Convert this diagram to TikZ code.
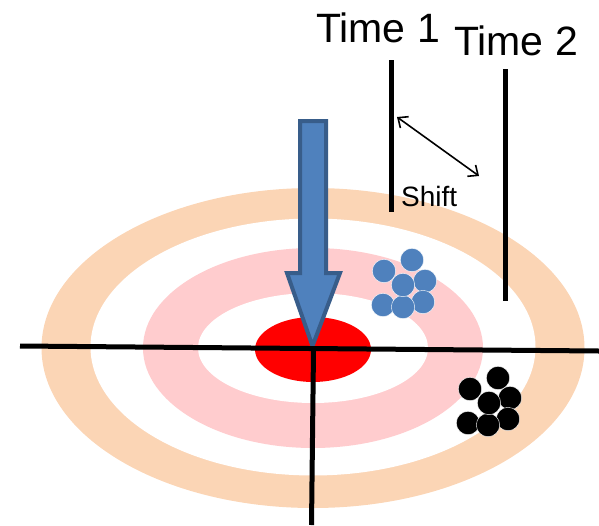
\documentclass[tikz,border=0pt]{standalone}
\usepackage{fontspec}
\setmainfont{Liberation Sans}
\usetikzlibrary{arrows.meta}
\definecolor{ringorange}{RGB}{251,213,181}
\definecolor{ringpink}{RGB}{255,204,206}
\definecolor{arrowfill}{RGB}{79,129,189}
\definecolor{arrowline}{RGB}{56,93,138}
\definecolor{dotblue}{RGB}{79,129,189}
\begin{document}
\begin{tikzpicture}[x=1pt,y=-1pt,
  bluedot/.style={fill=dotblue,draw=white,line width=0.4pt},
  blackdot/.style={fill=black,draw=white,line width=0.4pt},
  axisline/.style={line width=5pt,black},
  timeline/.style={line width=5pt,black},
  timelabel/.style={font=\fontsize{41}{41}\selectfont,inner sep=0pt,anchor=base west},
  shiftlabel/.style={font=\fontsize{28}{28}\selectfont,inner sep=0pt,anchor=base west}]
\useasboundingbox (0,0) rectangle (599,525);
% target rings
\fill[ringorange] (313,348) ellipse [x radius=271.5, y radius=160];
\fill[white] (313,347) ellipse [x radius=222.5, y radius=128.5];
\fill[ringpink] (313,348) ellipse [x radius=170, y radius=100];
\fill[white] (313,348) ellipse [x radius=115, y radius=55];
\fill[red] (313,349.5) ellipse [x radius=58, y radius=32.5];
% big arrow
\draw[fill=arrowfill,draw=arrowline,line width=4pt,line join=miter]
  (300,121) -- (326,121) -- (326,273) -- (340,273) -- (312.5,346)
  -- (287,273) -- (300,273) -- cycle;
% axes
\coordinate (hl) at (20,346);
\coordinate (hr) at (599,351);
\coordinate (vt) at (313.5,350);
\coordinate (vb) at (311.5,525);
\draw[axisline] (hl) -- (hr);
\draw[axisline] (vt) -- (vb);
% time lines
\coordinate (t1top) at (391,60);
\coordinate (t1bot) at (391,212);
\coordinate (t2top) at (505,69);
\coordinate (t2bot) at (505,301);
\draw[timeline] (t1top) -- (t1bot);
\draw[timeline] (t2top) -- (t2bot);
\node[timelabel] (time1) at (316,42) {Time 1};
\node[timelabel] (time2) at (454,55) {Time 2};
% shift arrow
\coordinate (sa) at (397,117);
\coordinate (sb) at (479,176);
\draw[line width=1.6pt,{Straight Barb[length=8pt,width=14pt]}-{Straight Barb[length=8pt,width=14pt]}] (sa) -- (sb);
\node[shiftlabel] (shift) at (401,206) {Shift};
% blue dots
\foreach \p in {(412,260),(384,271),(425,281),(383,305),(423,302),(403,307),(403,285)}
  \draw[bluedot] \p circle [radius=11.7];
% black dots
\foreach \p in {(498,378),(470,389),(510,398),(468,423),(508,419),(488,425),(489,403)}
  \draw[blackdot] \p circle [radius=11.7];
\end{tikzpicture}
\end{document}
